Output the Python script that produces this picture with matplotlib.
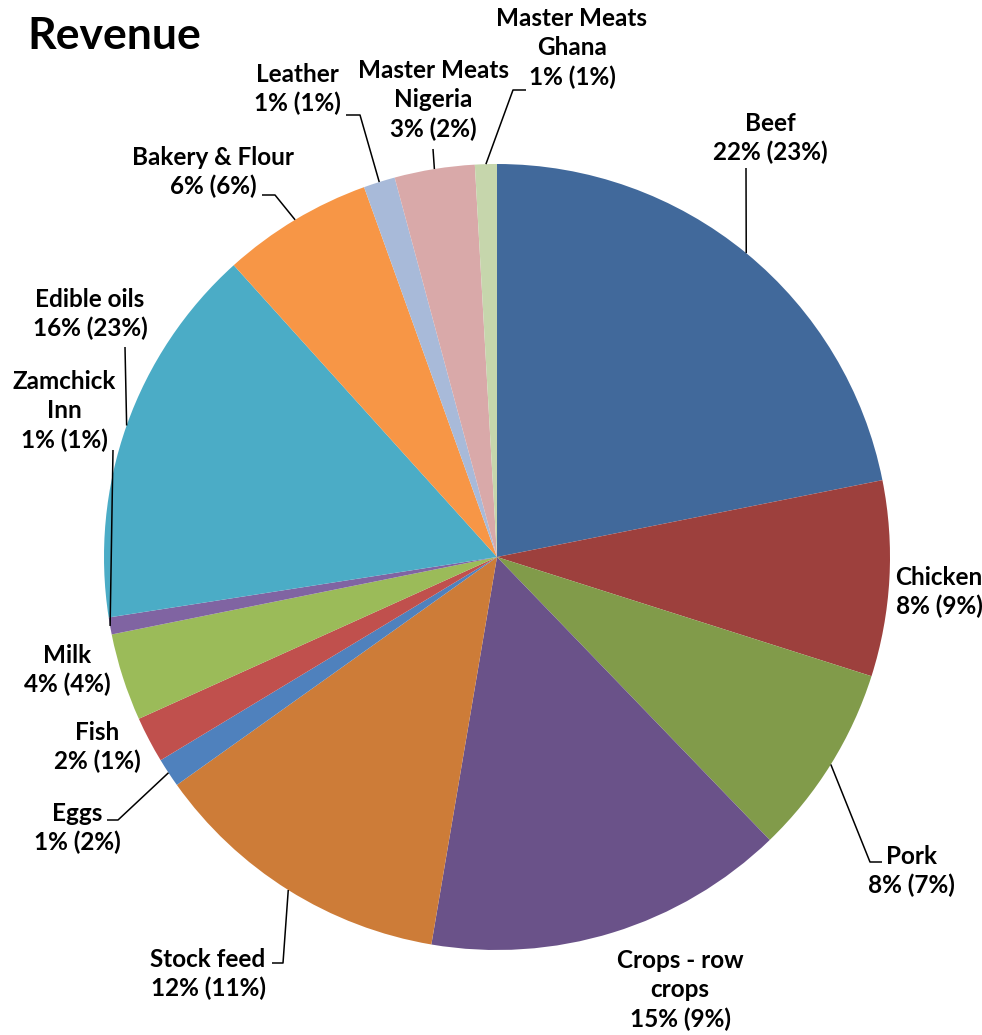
import numpy as np
import matplotlib
matplotlib.use("Agg")
import matplotlib.pyplot as plt

plt.rcParams['font.family'] = ['Lato', 'DejaVu Sans']

# Revenue data (share) and label texts
segments = ["Beef", "Chicken", "Pork", "Crops - row\ncrops", "Stock feed", "Eggs", "Fish",
            "Milk", "Zamchick\nInn", "Edible oils", "Bakery & Flour", "Leather",
            "Master Meats\nNigeria", "Master Meats\nGhana"]
share = [21.9, 8.05, 7.9, 14.9, 12.5, 1.2, 1.9, 3.6, 0.7, 15.8, 6.2, 1.3, 3.3, 0.9]
share_labels = ["22% (23%)", "8% (9%)", "8% (7%)", "15% (9%)", "12% (11%)", "1% (2%)",
                "2% (1%)", "4% (4%)", "1% (1%)", "16% (23%)", "6% (6%)", "1% (1%)",
                "3% (2%)", "1% (1%)"]
colors = ["#41699B", "#9D403D", "#819B4A", "#6A5289", "#CD7C38", "#4F81BD", "#C0504D",
          "#9BBB59", "#8064A2", "#4BACC6", "#F79646", "#A8BAD9", "#D9A9A9", "#C6D6AC"]

# layout in pixels: pie centre and radius, label centres, leader elbows
W, H = 982, 1035
CX, CY, R = 497, 557, 393

def px(x, y):
    return (x - CX) / R, (CY - y) / R

label_pos = [(770, 138), (939, 592), (911, 871), (680, 990), (208, 974), (77, 828),
             (97, 747), (67, 670), (64, 411), (90, 314), (213, 172), (297, 89),
             (433, 100), (572, 48)]
leaders = {
    0: [(746, 168)],
    2: [(870, 862), (882, 862)],
    4: [(283, 963), (272, 963)],
    5: [(118, 820), (107, 820)],
    8: [(113, 450)],
    9: [(125, 347)],
    10: [(275, 195), (262, 195)],
    11: [(360, 115), (346, 115)],
    12: [(433, 149)],
    13: [(513, 90), (526, 90)],
}

fig = plt.figure(figsize=(W / 100, H / 100), dpi=100)
ax = fig.add_axes([0, 0, 1, 1])

wedges, _ = ax.pie(share, colors=colors, startangle=90, counterclock=False, radius=1,
                   center=(0, 0), wedgeprops=dict(linewidth=0))

# pie() resets the limits, so set them afterwards
ax.set_xlim(-CX / R, (W - CX) / R)
ax.set_ylim(-(H - CY) / R, CY / R)
ax.set_aspect('equal')
ax.axis('off')

for i, (name, pct) in enumerate(zip(segments, share_labels)):
    x, y = px(*label_pos[i])
    ax.text(x, y, name + "\n" + pct, ha='center', va='center', fontsize=17.5,
            fontweight='bold', linespacing=1.32, color='black')
    if i in leaders:
        w = wedges[i]
        mid = np.deg2rad((w.theta1 + w.theta2) / 2)
        pts = [(np.cos(mid), np.sin(mid))] + [px(*p) for p in leaders[i]]
        xs, ys = zip(*pts)
        ax.plot(xs, ys, color='black', lw=1.1, solid_capstyle='butt')

tx, ty = px(27, 36)
ax.text(tx, ty, "Revenue", ha='left', va='center', fontsize=32, fontweight='bold')

fig.savefig("out.png", dpi=100)
